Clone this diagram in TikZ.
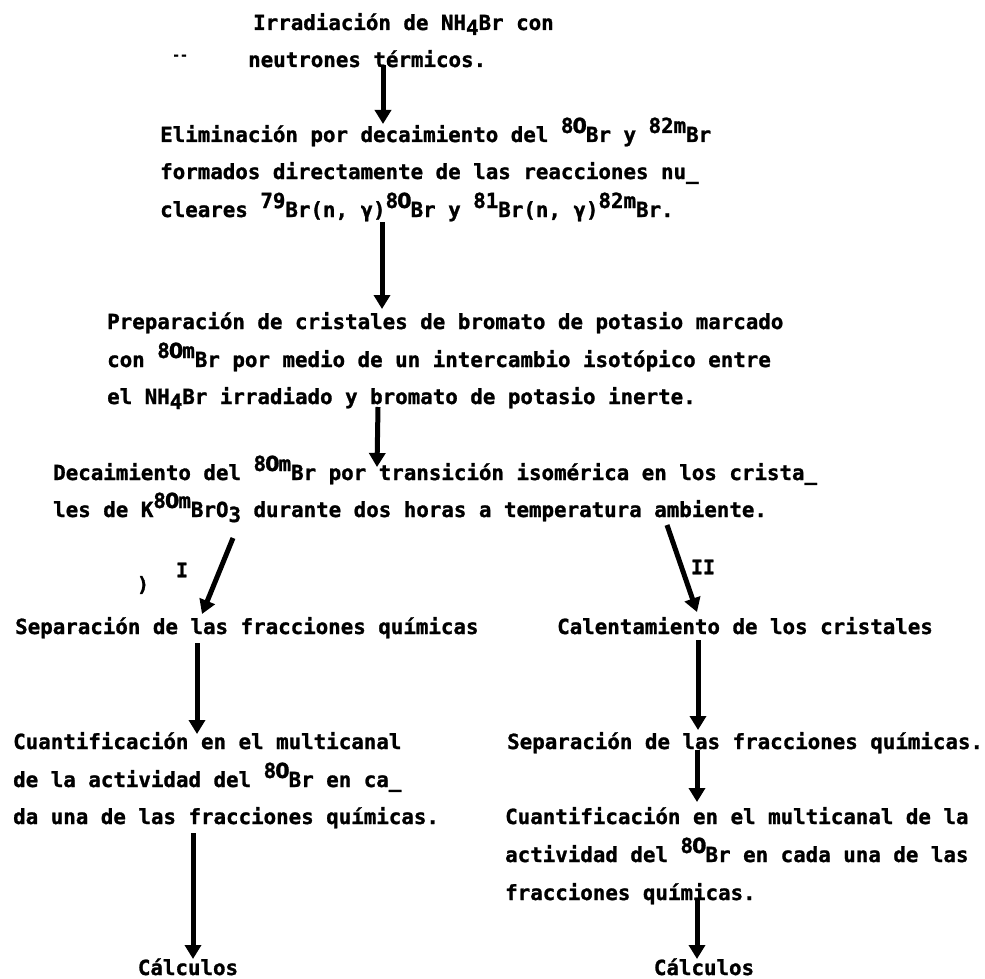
\documentclass[tikz,border=0pt]{standalone}
\usepackage{fontspec}
\setmonofont{DejaVu Sans Mono}[BoldFeatures={FakeBold=1.2}]
\newfontfamily\plainzero{DejaVu Sans}[BoldFeatures={FakeBold=1.2}]
\usetikzlibrary{arrows.meta}
\newcommand\zr{\makebox[0.602em]{\plainzero\bfseries 0}}
\newcommand\upx[1]{\raisebox{9pt}{#1}}
\newcommand\dnx[1]{\raisebox{-5pt}{#1}}
\tikzset{
  txt/.style={anchor=base west, inner sep=0pt, font=\ttfamily\bfseries\fontsize{20.8}{25}\selectfont},
  ctxt/.style={anchor=base, inner sep=0pt, font=\ttfamily\bfseries\fontsize{20.8}{25}\selectfont},
  lbl/.style={anchor=center, inner sep=0pt, font=\ttfamily\bfseries\fontsize{20}{22}\selectfont},
  flow/.style={line width=5pt, -{Triangle[width=16pt,length=14pt]}}
}
\begin{document}
\begin{tikzpicture}[x=1pt,y=-1pt]
\useasboundingbox (0,0) rectangle (985,979);
% block 1
\node[txt] (b1a) at (253,30) {Irradiación de NH\dnx{4}Br con};
\node[txt] (b1b) at (248,67) {neutrones térmicos.};
\node[lbl,font=\ttfamily\bfseries\fontsize{13}{14}\selectfont] (dash) at (180,57) {--};
% block 2
\node[txt] (b2a) at (160,142) {Eliminación por decaimiento del \upx{8\zr}Br y \upx{82m}Br};
\node[txt] (b2b) at (160,179) {formados directamente de las reacciones nu\_};
\node[txt] (b2c) at (160,217) {cleares \upx{79}Br(n, γ)\upx{8\zr}Br y \upx{81}Br(n, γ)\upx{82m}Br.};
% block 3
\node[txt] (b3a) at (107,329) {Preparación de cristales de bromato de potasio marcado};
\node[txt] (b3b) at (107,367) {con \upx{8\zr m}Br por medio de un intercambio isotópico entre};
\node[txt] (b3c) at (107,404) {el NH\dnx{4}Br irradiado y bromato de potasio inerte.};
% block 4
\node[txt] (b4a) at (53,480) {Decaimiento del \upx{8\zr m}Br por transición isomérica en los crista\_};
\node[txt] (b4b) at (53,517) {les de K\upx{8\zr m}BrO\dnx{3} durante dos horas a temperatura ambiente.};
% branch labels
\node[lbl] (lI) at (182,570) {I};
\node[lbl] (lII) at (703,567) {II};
\node[lbl] (paren) at (143,585) {)};
% left branch
\node[txt] (l1) at (15,634) {Separación de las fracciones químicas};
\node[txt] (l2a) at (13,749) {Cuantificación en el multicanal};
\node[txt] (l2b) at (13,787) {de la actividad del \upx{8\zr}Br en ca\_};
\node[txt] (l2c) at (13,824) {da una de las fracciones químicas.};
\node[ctxt] (l3) at (188,975) {Cálculos};
% right branch
\node[txt] (r1) at (557,634) {Calentamiento de los cristales};
\node[txt] (r2) at (507,749) {Separación de las fracciones químicas.};
\node[txt] (r3a) at (505,824) {Cuantificación en el multicanal de la};
\node[txt] (r3b) at (505,862) {actividad del \upx{8\zr}Br en cada una de las};
\node[txt] (r3c) at (505,900) {fracciones químicas.};
\node[ctxt] (r4) at (704,975) {Cálculos};
% arrow end points
\coordinate (a1s) at (383,65);  \coordinate (a1e) at (383,124);
\coordinate (a2s) at (382,222); \coordinate (a2e) at (382,309);
\coordinate (a3s) at (378,407); \coordinate (a3e) at (377,467);
\coordinate (aIs) at (233,538); \coordinate (aIe) at (202,614);
\coordinate (aIIs) at (667,525); \coordinate (aIIe) at (697,612);
\coordinate (aL1s) at (197,643); \coordinate (aL1e) at (197,734);
\coordinate (aL2s) at (193,833); \coordinate (aL2e) at (193,959);
\coordinate (aR1s) at (698,640); \coordinate (aR1e) at (698,730);
\coordinate (aR2s) at (697,750); \coordinate (aR2e) at (697,802);
\coordinate (aR3s) at (697,900); \coordinate (aR3e) at (697,959);
\draw[flow] (a1s) -- (a1e);
\draw[flow] (a2s) -- (a2e);
\draw[flow] (a3s) -- (a3e);
\draw[flow] (aIs) -- (aIe);
\draw[flow] (aIIs) -- (aIIe);
\draw[flow] (aL1s) -- (aL1e);
\draw[flow] (aL2s) -- (aL2e);
\draw[flow] (aR1s) -- (aR1e);
\draw[flow] (aR2s) -- (aR2e);
\draw[flow] (aR3s) -- (aR3e);
\end{tikzpicture}
\end{document}
